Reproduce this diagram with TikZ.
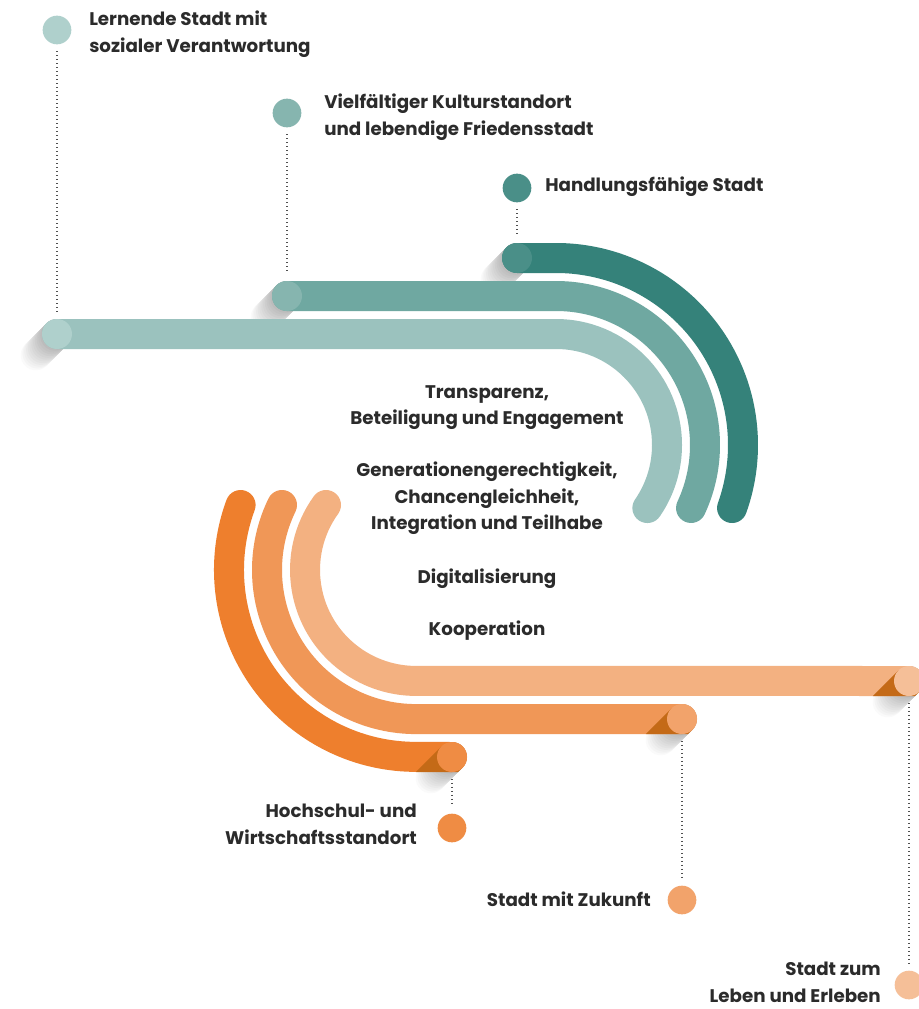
\documentclass[tikz,border=0pt]{standalone}
\usepackage{fontspec}
\setmainfont{Poppins}
\definecolor{tA}{HTML}{9BC2BE}
\definecolor{tAc}{HTML}{AFD0CC}
\definecolor{tB}{HTML}{6FA8A1}
\definecolor{tBc}{HTML}{86B5AF}
\definecolor{tC}{HTML}{35827A}
\definecolor{tCc}{HTML}{4A8F88}
\definecolor{oA}{HTML}{EE7F2D}
\definecolor{oAc}{HTML}{EF8C44}
\definecolor{oB}{HTML}{F09757}
\definecolor{oBc}{HTML}{F2A36B}
\definecolor{oC}{HTML}{F3B181}
\definecolor{oCc}{HTML}{F5BF98}
\definecolor{foldc}{HTML}{C46A17}
\definecolor{txt}{HTML}{2B2B2B}
\definecolor{dotc}{HTML}{505050}
\newcommand\capshadow[2]{%
  \foreach \k in {0,...,12}{%
    \pgfmathsetmacro\tt{30-2.5*\k}%
    \pgfmathsetmacro\gg{2+2.2*\k}%
    \fill[black!\gg!white] (#1-0.7071*\tt,#2+0.7071*\tt) circle[radius=15];
  }}
\newcommand\capfold[2]{%
  \fill[foldc] (#1-10.6,#2-10.6) -- (#1-36.2,#2+15) -- (#1+6.2,#2+15) -- (#1+10.6,#2+10.6) -- cycle;}
\begin{document}
\begin{tikzpicture}[x=0.75pt,y=-0.75pt,
  band/.style={line width=22.5pt, line cap=round},
  capdot/.style={circle, inner sep=0pt, minimum size=22.5pt},
  labdot/.style={circle, inner sep=0pt, minimum size=21.5pt},
  lbl/.style={inner sep=0pt, text=txt, font=\bfseries\fontsize{13.7}{19.8}\selectfont},
  dotline/.style={dotc, line width=0.9pt, dash pattern=on 0.9pt off 2.1pt, shorten <=5pt, shorten >=5pt}]
\useasboundingbox (0,0) rectangle (918,1009);
\fill[white] (0,0) rectangle (918,1009);
% shadows
\capshadow{57}{334}
\capshadow{287}{296}
\capshadow{517}{258}
\capshadow{452}{757}
\capshadow{682}{719}
\capshadow{909}{681}
% teal bands
\draw[band,tA] (57,334) -- (556,334) arc[start angle=-90,end angle=34.6,radius=111];
\draw[band,tB] (287,296) -- (556,296) arc[start angle=-90,end angle=25,radius=149];
\draw[band,tC] (517,258) -- (556,258) arc[start angle=-90,end angle=19.7,radius=187];
% orange bands
\draw[band,oA] (240.6,505) arc[start angle=200.3,end angle=90,radius=187] -- (452,757);
\draw[band,oB] (282,505) arc[start angle=205.9,end angle=90,radius=149] -- (682,719);
\draw[band,oC] (326,505) arc[start angle=215.8,end angle=90,radius=111] -- (909,681);
% folds
\capfold{452}{757}
\capfold{682}{719}
\capfold{909}{681}
% caps
\node[capdot,fill=tAc] (capA) at (57,334) {};
\node[capdot,fill=tBc] (capB) at (287,296) {};
\node[capdot,fill=tCc] (capC) at (517,258) {};
\node[capdot,fill=oAc] (capD) at (452,757) {};
\node[capdot,fill=oBc] (capE) at (682,719) {};
\node[capdot,fill=oCc] (capF) at (909,681) {};
% label dots
\node[labdot,fill=tAc] (labA) at (57,30) {};
\node[labdot,fill=tBc] (labB) at (287,113) {};
\node[labdot,fill=tCc] (labC) at (517,188) {};
\node[labdot,fill=oAc] (labD) at (452,828) {};
\node[labdot,fill=oBc] (labE) at (682,900) {};
\node[labdot,fill=oCc] (labF) at (909,985) {};
% connectors
\draw[dotline] (labA) -- (capA);
\draw[dotline] (labB) -- (capB);
\draw[dotline] (labC) -- (capC);
\draw[dotline] (capD) -- (labD);
\draw[dotline] (capE) -- (labE);
\draw[dotline] (capF) -- (labF);
% texts
\node[lbl,align=left,anchor=north west] (tLern) at (89,11) {Lernende Stadt mit\\sozialer Verantwortung};
\node[lbl,align=left,anchor=north west] (tViel) at (324,94) {Vielfältiger Kulturstandort\\und lebendige Friedensstadt};
\node[lbl,anchor=north west] (tHand) at (545,177) {Handlungsfähige Stadt};
\node[lbl,align=center,anchor=north] (tTrans) at (487,385) {Transparenz,\\Beteiligung und Engagement};
\node[lbl,align=center,anchor=north] (tGen) at (487,462) {Generationengerechtigkeit,\\Chancengleichheit,\\Integration und Teilhabe};
\node[lbl,anchor=north] (tDig) at (487,569) {Digitalisierung};
\node[lbl,anchor=north] (tKoop) at (487,621) {Kooperation};
\node[lbl,align=right,anchor=north east] (tHoch) at (417,804) {Hochschul- und\\Wirtschaftsstandort};
\node[lbl,anchor=north east] (tZuk) at (651,892) {Stadt mit Zukunft};
\node[lbl,align=right,anchor=north east] (tLeb) at (881,962) {Stadt zum\\Leben und Erleben};
\end{tikzpicture}
\end{document}
